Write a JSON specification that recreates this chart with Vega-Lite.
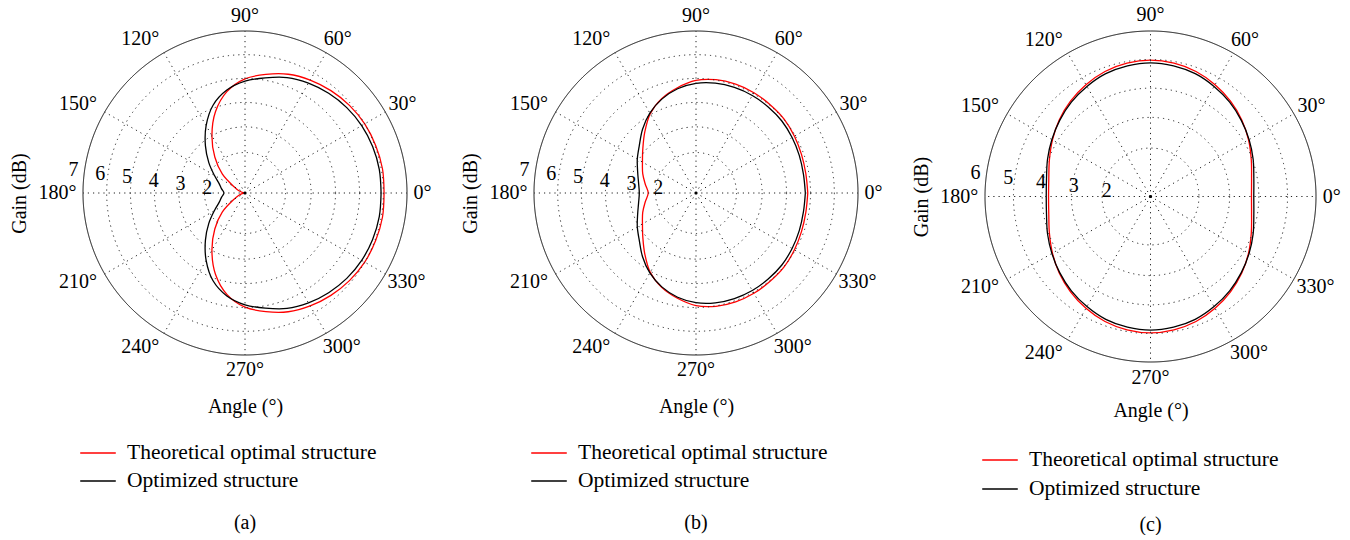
{
  "$schema": "https://vega.github.io/schema/vega-lite/v6.json",
  "background": "white",
  "padding": {"left": 9, "top": 5, "right": 5, "bottom": 0},
  "config": {
    "font": "Liberation Serif",
    "view": {"stroke": null},
    "axis": {"domain": false, "ticks": false, "labels": false, "grid": false, "titleFont": "Liberation Serif", "titleFontSize": 20, "titleFontWeight": "normal", "titleColor": "#000"},
    "axisX": {"titlePadding": 41},
    "axisY": {"titlePadding": 54},
    "legend": {"orient": "bottom", "direction": "vertical", "title": null, "symbolType": "M-1.27,0H1.27", "symbolSize": 784, "symbolStrokeWidth": 1.3, "labelFont": "Liberation Serif", "labelFontSize": 21.5, "labelColor": "#000", "labelLimit": 500, "rowPadding": 2, "offset": 22, "padding": 0, "labelOffset": 14},
    "title": {"font": "Liberation Serif", "fontSize": 20, "fontWeight": "normal", "color": "#000", "orient": "bottom", "anchor": "middle", "offset": 21}
  },
  "datasets": {
    "levels": [{"g": 2}, {"g": 3}, {"g": 4}, {"g": 5}, {"g": 6}, {"g": 7}],
    "angles": [
      {"a": 0, "t": "0°"}, {"a": 30, "t": "30°"}, {"a": 60, "t": "60°"}, {"a": 90, "t": "90°"},
      {"a": 120, "t": "120°"}, {"a": 150, "t": "150°"}, {"a": 180, "t": "180°"}, {"a": 210, "t": "210°"},
      {"a": 240, "t": "240°"}, {"a": 270, "t": "270°"}, {"a": 300, "t": "300°"}, {"a": 330, "t": "330°"}
    ],
    "curves": [
      {"p":"a","s":"Theoretical optimal structure","a":0,"g":6.15},{"p":"a","s":"Theoretical optimal structure","a":10,"g":6.17},{"p":"a","s":"Theoretical optimal structure","a":20,"g":6.15},{"p":"a","s":"Theoretical optimal structure","a":30,"g":6.12},{"p":"a","s":"Theoretical optimal structure","a":40,"g":6.05},{"p":"a","s":"Theoretical optimal structure","a":50,"g":5.95},{"p":"a","s":"Theoretical optimal structure","a":60,"g":5.83},{"p":"a","s":"Theoretical optimal structure","a":70,"g":5.68},{"p":"a","s":"Theoretical optimal structure","a":80,"g":5.46},{"p":"a","s":"Theoretical optimal structure","a":90,"g":5.23},{"p":"a","s":"Theoretical optimal structure","a":100,"g":4.82},{"p":"a","s":"Theoretical optimal structure","a":110,"g":4.2},{"p":"a","s":"Theoretical optimal structure","a":120,"g":3.45},{"p":"a","s":"Theoretical optimal structure","a":130,"g":2.74},{"p":"a","s":"Theoretical optimal structure","a":140,"g":2.1},{"p":"a","s":"Theoretical optimal structure","a":150,"g":1.48},{"p":"a","s":"Theoretical optimal structure","a":160,"g":1.24},{"p":"a","s":"Theoretical optimal structure","a":170,"g":1.08},{"p":"a","s":"Theoretical optimal structure","a":180,"g":1.0},{"p":"a","s":"Theoretical optimal structure","a":190,"g":1.08},{"p":"a","s":"Theoretical optimal structure","a":200,"g":1.24},{"p":"a","s":"Theoretical optimal structure","a":210,"g":1.48},{"p":"a","s":"Theoretical optimal structure","a":220,"g":2.1},{"p":"a","s":"Theoretical optimal structure","a":230,"g":2.74},{"p":"a","s":"Theoretical optimal structure","a":240,"g":3.45},{"p":"a","s":"Theoretical optimal structure","a":250,"g":4.2},{"p":"a","s":"Theoretical optimal structure","a":260,"g":4.82},{"p":"a","s":"Theoretical optimal structure","a":270,"g":5.23},{"p":"a","s":"Theoretical optimal structure","a":280,"g":5.46},{"p":"a","s":"Theoretical optimal structure","a":290,"g":5.68},{"p":"a","s":"Theoretical optimal structure","a":300,"g":5.83},{"p":"a","s":"Theoretical optimal structure","a":310,"g":5.95},{"p":"a","s":"Theoretical optimal structure","a":320,"g":6.05},{"p":"a","s":"Theoretical optimal structure","a":330,"g":6.12},{"p":"a","s":"Theoretical optimal structure","a":340,"g":6.15},{"p":"a","s":"Theoretical optimal structure","a":350,"g":6.17},{"p":"a","s":"Theoretical optimal structure","a":360,"g":6.15},
      {"p":"a","s":"Optimized structure","a":0,"g":6.04},{"p":"a","s":"Optimized structure","a":10,"g":6.05},{"p":"a","s":"Optimized structure","a":20,"g":6.03},{"p":"a","s":"Optimized structure","a":30,"g":5.99},{"p":"a","s":"Optimized structure","a":40,"g":5.92},{"p":"a","s":"Optimized structure","a":50,"g":5.82},{"p":"a","s":"Optimized structure","a":60,"g":5.7},{"p":"a","s":"Optimized structure","a":70,"g":5.55},{"p":"a","s":"Optimized structure","a":80,"g":5.33},{"p":"a","s":"Optimized structure","a":90,"g":5.14},{"p":"a","s":"Optimized structure","a":100,"g":4.87},{"p":"a","s":"Optimized structure","a":110,"g":4.46},{"p":"a","s":"Optimized structure","a":120,"g":3.88},{"p":"a","s":"Optimized structure","a":130,"g":3.28},{"p":"a","s":"Optimized structure","a":140,"g":2.75},{"p":"a","s":"Optimized structure","a":150,"g":2.31},{"p":"a","s":"Optimized structure","a":160,"g":2.02},{"p":"a","s":"Optimized structure","a":170,"g":1.88},{"p":"a","s":"Optimized structure","a":180,"g":1.78},{"p":"a","s":"Optimized structure","a":190,"g":1.88},{"p":"a","s":"Optimized structure","a":200,"g":2.02},{"p":"a","s":"Optimized structure","a":210,"g":2.31},{"p":"a","s":"Optimized structure","a":220,"g":2.75},{"p":"a","s":"Optimized structure","a":230,"g":3.28},{"p":"a","s":"Optimized structure","a":240,"g":3.88},{"p":"a","s":"Optimized structure","a":250,"g":4.46},{"p":"a","s":"Optimized structure","a":260,"g":4.87},{"p":"a","s":"Optimized structure","a":270,"g":5.14},{"p":"a","s":"Optimized structure","a":280,"g":5.33},{"p":"a","s":"Optimized structure","a":290,"g":5.55},{"p":"a","s":"Optimized structure","a":300,"g":5.7},{"p":"a","s":"Optimized structure","a":310,"g":5.82},{"p":"a","s":"Optimized structure","a":320,"g":5.92},{"p":"a","s":"Optimized structure","a":330,"g":5.99},{"p":"a","s":"Optimized structure","a":340,"g":6.03},{"p":"a","s":"Optimized structure","a":350,"g":6.05},{"p":"a","s":"Optimized structure","a":360,"g":6.04},
      {"p":"b","s":"Theoretical optimal structure","a":0,"g":5.14},{"p":"b","s":"Theoretical optimal structure","a":10,"g":5.13},{"p":"b","s":"Theoretical optimal structure","a":20,"g":5.16},{"p":"b","s":"Theoretical optimal structure","a":30,"g":5.21},{"p":"b","s":"Theoretical optimal structure","a":40,"g":5.26},{"p":"b","s":"Theoretical optimal structure","a":50,"g":5.27},{"p":"b","s":"Theoretical optimal structure","a":60,"g":5.29},{"p":"b","s":"Theoretical optimal structure","a":70,"g":5.29},{"p":"b","s":"Theoretical optimal structure","a":80,"g":5.26},{"p":"b","s":"Theoretical optimal structure","a":90,"g":5.17},{"p":"b","s":"Theoretical optimal structure","a":100,"g":4.96},{"p":"b","s":"Theoretical optimal structure","a":110,"g":4.72},{"p":"b","s":"Theoretical optimal structure","a":120,"g":4.39},{"p":"b","s":"Theoretical optimal structure","a":130,"g":3.95},{"p":"b","s":"Theoretical optimal structure","a":140,"g":3.57},{"p":"b","s":"Theoretical optimal structure","a":150,"g":3.29},{"p":"b","s":"Theoretical optimal structure","a":160,"g":3.1},{"p":"b","s":"Theoretical optimal structure","a":170,"g":2.91},{"p":"b","s":"Theoretical optimal structure","a":180,"g":2.77},{"p":"b","s":"Theoretical optimal structure","a":190,"g":2.91},{"p":"b","s":"Theoretical optimal structure","a":200,"g":3.1},{"p":"b","s":"Theoretical optimal structure","a":210,"g":3.29},{"p":"b","s":"Theoretical optimal structure","a":220,"g":3.57},{"p":"b","s":"Theoretical optimal structure","a":230,"g":3.95},{"p":"b","s":"Theoretical optimal structure","a":240,"g":4.39},{"p":"b","s":"Theoretical optimal structure","a":250,"g":4.72},{"p":"b","s":"Theoretical optimal structure","a":260,"g":4.96},{"p":"b","s":"Theoretical optimal structure","a":270,"g":5.17},{"p":"b","s":"Theoretical optimal structure","a":280,"g":5.26},{"p":"b","s":"Theoretical optimal structure","a":290,"g":5.29},{"p":"b","s":"Theoretical optimal structure","a":300,"g":5.29},{"p":"b","s":"Theoretical optimal structure","a":310,"g":5.27},{"p":"b","s":"Theoretical optimal structure","a":320,"g":5.26},{"p":"b","s":"Theoretical optimal structure","a":330,"g":5.21},{"p":"b","s":"Theoretical optimal structure","a":340,"g":5.16},{"p":"b","s":"Theoretical optimal structure","a":350,"g":5.13},{"p":"b","s":"Theoretical optimal structure","a":360,"g":5.14},
      {"p":"b","s":"Optimized structure","a":0,"g":5.05},{"p":"b","s":"Optimized structure","a":10,"g":5.04},{"p":"b","s":"Optimized structure","a":20,"g":5.07},{"p":"b","s":"Optimized structure","a":30,"g":5.11},{"p":"b","s":"Optimized structure","a":40,"g":5.15},{"p":"b","s":"Optimized structure","a":50,"g":5.16},{"p":"b","s":"Optimized structure","a":60,"g":5.17},{"p":"b","s":"Optimized structure","a":70,"g":5.16},{"p":"b","s":"Optimized structure","a":80,"g":5.13},{"p":"b","s":"Optimized structure","a":90,"g":5.06},{"p":"b","s":"Optimized structure","a":100,"g":4.92},{"p":"b","s":"Optimized structure","a":110,"g":4.7},{"p":"b","s":"Optimized structure","a":120,"g":4.42},{"p":"b","s":"Optimized structure","a":130,"g":4.08},{"p":"b","s":"Optimized structure","a":140,"g":3.74},{"p":"b","s":"Optimized structure","a":150,"g":3.51},{"p":"b","s":"Optimized structure","a":160,"g":3.3},{"p":"b","s":"Optimized structure","a":170,"g":3.16},{"p":"b","s":"Optimized structure","a":180,"g":3.1},{"p":"b","s":"Optimized structure","a":190,"g":3.16},{"p":"b","s":"Optimized structure","a":200,"g":3.3},{"p":"b","s":"Optimized structure","a":210,"g":3.51},{"p":"b","s":"Optimized structure","a":220,"g":3.74},{"p":"b","s":"Optimized structure","a":230,"g":4.08},{"p":"b","s":"Optimized structure","a":240,"g":4.42},{"p":"b","s":"Optimized structure","a":250,"g":4.7},{"p":"b","s":"Optimized structure","a":260,"g":4.92},{"p":"b","s":"Optimized structure","a":270,"g":5.06},{"p":"b","s":"Optimized structure","a":280,"g":5.13},{"p":"b","s":"Optimized structure","a":290,"g":5.16},{"p":"b","s":"Optimized structure","a":300,"g":5.17},{"p":"b","s":"Optimized structure","a":310,"g":5.16},{"p":"b","s":"Optimized structure","a":320,"g":5.15},{"p":"b","s":"Optimized structure","a":330,"g":5.11},{"p":"b","s":"Optimized structure","a":340,"g":5.07},{"p":"b","s":"Optimized structure","a":350,"g":5.04},{"p":"b","s":"Optimized structure","a":360,"g":5.05},
      {"p":"c","s":"Theoretical optimal structure","a":0,"g":4.05},{"p":"c","s":"Theoretical optimal structure","a":10,"g":4.1},{"p":"c","s":"Theoretical optimal structure","a":20,"g":4.24},{"p":"c","s":"Theoretical optimal structure","a":30,"g":4.42},{"p":"c","s":"Theoretical optimal structure","a":40,"g":4.6},{"p":"c","s":"Theoretical optimal structure","a":50,"g":4.76},{"p":"c","s":"Theoretical optimal structure","a":60,"g":4.9},{"p":"c","s":"Theoretical optimal structure","a":70,"g":5.02},{"p":"c","s":"Theoretical optimal structure","a":80,"g":5.09},{"p":"c","s":"Theoretical optimal structure","a":90,"g":5.12},{"p":"c","s":"Theoretical optimal structure","a":100,"g":5.09},{"p":"c","s":"Theoretical optimal structure","a":110,"g":5.02},{"p":"c","s":"Theoretical optimal structure","a":120,"g":4.9},{"p":"c","s":"Theoretical optimal structure","a":130,"g":4.76},{"p":"c","s":"Theoretical optimal structure","a":140,"g":4.6},{"p":"c","s":"Theoretical optimal structure","a":150,"g":4.42},{"p":"c","s":"Theoretical optimal structure","a":160,"g":4.25},{"p":"c","s":"Theoretical optimal structure","a":170,"g":4.12},{"p":"c","s":"Theoretical optimal structure","a":180,"g":4.08},{"p":"c","s":"Theoretical optimal structure","a":190,"g":4.12},{"p":"c","s":"Theoretical optimal structure","a":200,"g":4.25},{"p":"c","s":"Theoretical optimal structure","a":210,"g":4.42},{"p":"c","s":"Theoretical optimal structure","a":220,"g":4.6},{"p":"c","s":"Theoretical optimal structure","a":230,"g":4.76},{"p":"c","s":"Theoretical optimal structure","a":240,"g":4.9},{"p":"c","s":"Theoretical optimal structure","a":250,"g":5.02},{"p":"c","s":"Theoretical optimal structure","a":260,"g":5.09},{"p":"c","s":"Theoretical optimal structure","a":270,"g":5.12},{"p":"c","s":"Theoretical optimal structure","a":280,"g":5.09},{"p":"c","s":"Theoretical optimal structure","a":290,"g":5.02},{"p":"c","s":"Theoretical optimal structure","a":300,"g":4.9},{"p":"c","s":"Theoretical optimal structure","a":310,"g":4.76},{"p":"c","s":"Theoretical optimal structure","a":320,"g":4.6},{"p":"c","s":"Theoretical optimal structure","a":330,"g":4.42},{"p":"c","s":"Theoretical optimal structure","a":340,"g":4.24},{"p":"c","s":"Theoretical optimal structure","a":350,"g":4.1},{"p":"c","s":"Theoretical optimal structure","a":360,"g":4.05},
      {"p":"c","s":"Optimized structure","a":0,"g":4.12},{"p":"c","s":"Optimized structure","a":10,"g":4.17},{"p":"c","s":"Optimized structure","a":20,"g":4.3},{"p":"c","s":"Optimized structure","a":30,"g":4.44},{"p":"c","s":"Optimized structure","a":40,"g":4.58},{"p":"c","s":"Optimized structure","a":50,"g":4.72},{"p":"c","s":"Optimized structure","a":60,"g":4.84},{"p":"c","s":"Optimized structure","a":70,"g":4.95},{"p":"c","s":"Optimized structure","a":80,"g":5.01},{"p":"c","s":"Optimized structure","a":90,"g":5.04},{"p":"c","s":"Optimized structure","a":100,"g":5.01},{"p":"c","s":"Optimized structure","a":110,"g":4.95},{"p":"c","s":"Optimized structure","a":120,"g":4.84},{"p":"c","s":"Optimized structure","a":130,"g":4.72},{"p":"c","s":"Optimized structure","a":140,"g":4.58},{"p":"c","s":"Optimized structure","a":150,"g":4.44},{"p":"c","s":"Optimized structure","a":160,"g":4.31},{"p":"c","s":"Optimized structure","a":170,"g":4.19},{"p":"c","s":"Optimized structure","a":180,"g":4.15},{"p":"c","s":"Optimized structure","a":190,"g":4.19},{"p":"c","s":"Optimized structure","a":200,"g":4.31},{"p":"c","s":"Optimized structure","a":210,"g":4.44},{"p":"c","s":"Optimized structure","a":220,"g":4.58},{"p":"c","s":"Optimized structure","a":230,"g":4.72},{"p":"c","s":"Optimized structure","a":240,"g":4.84},{"p":"c","s":"Optimized structure","a":250,"g":4.95},{"p":"c","s":"Optimized structure","a":260,"g":5.01},{"p":"c","s":"Optimized structure","a":270,"g":5.04},{"p":"c","s":"Optimized structure","a":280,"g":5.01},{"p":"c","s":"Optimized structure","a":290,"g":4.95},{"p":"c","s":"Optimized structure","a":300,"g":4.84},{"p":"c","s":"Optimized structure","a":310,"g":4.72},{"p":"c","s":"Optimized structure","a":320,"g":4.58},{"p":"c","s":"Optimized structure","a":330,"g":4.44},{"p":"c","s":"Optimized structure","a":340,"g":4.3},{"p":"c","s":"Optimized structure","a":350,"g":4.17},{"p":"c","s":"Optimized structure","a":360,"g":4.12}
    ]
  },
  "bounds": "flush",
  "spacing": 127,
  "resolve": {"scale": {"x": "independent", "y": "independent", "color": "independent", "size": "independent"}, "legend": {"color": "independent"}},
  "hconcat": [
    {
      "width": 324, "height": 324,
      "title": {"text": "(a)"},
      "layer": [
        {"data": {"name": "curves"}, "transform": [{"filter": "datum.p == 'a'"}, {"calculate": "(datum.g-1)*cos(datum.a*PI/180)", "as": "x"}, {"calculate": "(datum.g-1)*sin(datum.a*PI/180)", "as": "y"}],
         "mark": {"type": "line", "interpolate": "catmull-rom", "strokeWidth": 1.3},
         "encoding": {
           "x": {"field": "x", "type": "quantitative", "scale": {"domain": [-6, 6], "nice": false, "zero": false}, "axis": {"title": "Angle (°)"}},
           "y": {"field": "y", "type": "quantitative", "scale": {"domain": [-6, 6], "nice": false, "zero": false}, "axis": {"title": "Gain (dB)"}},
           "color": {"field": "s", "type": "nominal", "scale": {"domain": ["Theoretical optimal structure", "Optimized structure"], "range": ["#ff0000", "#000000"]}},
           "order": {"field": "a", "type": "quantitative"}}},
        {"data": {"name": "levels"},
         "mark": {"type": "point", "shape": "circle", "filled": false, "stroke": "#222", "strokeWidth": 1, "strokeDash": [1.2, 4], "opacity": 1},
         "encoding": {"x": {"datum": 0, "type": "quantitative", "axis": {"title": "Angle (°)"}}, "y": {"datum": 0, "type": "quantitative", "axis": {"title": "Gain (dB)"}},
           "strokeDash": {"condition": {"test": "datum.g == 7", "value": [1, 0]}, "value": [1.2, 4]},
           "stroke": {"condition": {"test": "datum.g == 7", "value": "#000"}, "value": "#222"},
           "size": {"field": "g", "type": "quantitative", "legend": null, "scale": {"type": "pow", "exponent": 2, "domain": [1, 7], "range": [0, 104976], "zero": false, "nice": false}}}},
        {"data": {"name": "angles"}, "transform": [{"calculate": "0", "as": "x0"}, {"calculate": "6*cos(datum.a*PI/180)", "as": "x"}, {"calculate": "6*sin(datum.a*PI/180)", "as": "y"}],
         "mark": {"type": "rule", "stroke": "#222", "strokeWidth": 1, "strokeDash": [1.2, 4]},
         "encoding": {"x": {"field": "x0", "type": "quantitative", "axis": {"title": "Angle (°)"}}, "y": {"field": "x0", "type": "quantitative", "axis": {"title": "Gain (dB)"}}, "x2": {"field": "x"}, "y2": {"field": "y"}}},
        {"data": {"values": [{"g": 1}]}, "mark": {"type": "point", "filled": true, "color": "#000", "size": 10, "opacity": 1},
         "encoding": {"x": {"datum": 0, "type": "quantitative", "axis": {"title": "Angle (°)"}}, "y": {"datum": 0, "type": "quantitative", "axis": {"title": "Gain (dB)"}}}},
        {"data": {"name": "angles"}, "transform": [
           {"calculate": "cos(datum.a*PI/180)", "as": "ca"}, {"calculate": "sin(datum.a*PI/180)", "as": "sa"},
           {"calculate": "abs(datum.ca) < 0.1 ? 0 : (datum.ca > 0 ? 4*(length(datum.t)-2) : -(10 + 7*abs(datum.sa)))", "as": "off"},
           {"calculate": "6*1.095*datum.ca + datum.off*6/162", "as": "x"}, {"calculate": "6*1.095*datum.sa", "as": "y"}],
         "mark": {"type": "text", "font": "Liberation Serif", "fontSize": 20, "align": "center", "baseline": "middle", "color": "#000"},
         "encoding": {"x": {"field": "x", "type": "quantitative", "axis": {"title": "Angle (°)"}}, "y": {"field": "y", "type": "quantitative", "axis": {"title": "Gain (dB)"}}, "text": {"field": "t", "type": "nominal"}}},
        {"data": {"name": "levels"}, "transform": [{"calculate": "(datum.g-1)*cos(172.5*PI/180)", "as": "x"}, {"calculate": "(datum.g-1)*sin(172.5*PI/180)", "as": "y"}],
         "mark": {"type": "text", "font": "Liberation Serif", "fontSize": 20, "align": "center", "baseline": "middle", "color": "#000", "dx": -11, "dy": -1.5},
         "encoding": {"x": {"field": "x", "type": "quantitative", "axis": {"title": "Angle (°)"}}, "y": {"field": "y", "type": "quantitative", "axis": {"title": "Gain (dB)"}}, "text": {"field": "g", "type": "nominal"}}}
      ]
    },
    {
      "width": 324, "height": 324,
      "title": {"text": "(b)"},
      "layer": [
        {"data": {"name": "curves"}, "transform": [{"filter": "datum.p == 'b'"}, {"calculate": "(datum.g-1)*cos(datum.a*PI/180)", "as": "x"}, {"calculate": "(datum.g-1)*sin(datum.a*PI/180)", "as": "y"}],
         "mark": {"type": "line", "interpolate": "catmull-rom", "strokeWidth": 1.3},
         "encoding": {
           "x": {"field": "x", "type": "quantitative", "scale": {"domain": [-6, 6], "nice": false, "zero": false}, "axis": {"title": "Angle (°)"}},
           "y": {"field": "y", "type": "quantitative", "scale": {"domain": [-6, 6], "nice": false, "zero": false}, "axis": {"title": "Gain (dB)"}},
           "color": {"field": "s", "type": "nominal", "scale": {"domain": ["Theoretical optimal structure", "Optimized structure"], "range": ["#ff0000", "#000000"]}},
           "order": {"field": "a", "type": "quantitative"}}},
        {"data": {"name": "levels"},
         "mark": {"type": "point", "shape": "circle", "filled": false, "stroke": "#222", "strokeWidth": 1, "strokeDash": [1.2, 4], "opacity": 1},
         "encoding": {"x": {"datum": 0, "type": "quantitative", "axis": {"title": "Angle (°)"}}, "y": {"datum": 0, "type": "quantitative", "axis": {"title": "Gain (dB)"}},
           "strokeDash": {"condition": {"test": "datum.g == 7", "value": [1, 0]}, "value": [1.2, 4]},
           "stroke": {"condition": {"test": "datum.g == 7", "value": "#000"}, "value": "#222"},
           "size": {"field": "g", "type": "quantitative", "legend": null, "scale": {"type": "pow", "exponent": 2, "domain": [1, 7], "range": [0, 104976], "zero": false, "nice": false}}}},
        {"data": {"name": "angles"}, "transform": [{"calculate": "0", "as": "x0"}, {"calculate": "6*cos(datum.a*PI/180)", "as": "x"}, {"calculate": "6*sin(datum.a*PI/180)", "as": "y"}],
         "mark": {"type": "rule", "stroke": "#222", "strokeWidth": 1, "strokeDash": [1.2, 4]},
         "encoding": {"x": {"field": "x0", "type": "quantitative", "axis": {"title": "Angle (°)"}}, "y": {"field": "x0", "type": "quantitative", "axis": {"title": "Gain (dB)"}}, "x2": {"field": "x"}, "y2": {"field": "y"}}},
        {"data": {"values": [{"g": 1}]}, "mark": {"type": "point", "filled": true, "color": "#000", "size": 10, "opacity": 1},
         "encoding": {"x": {"datum": 0, "type": "quantitative", "axis": {"title": "Angle (°)"}}, "y": {"datum": 0, "type": "quantitative", "axis": {"title": "Gain (dB)"}}}},
        {"data": {"name": "angles"}, "transform": [
           {"calculate": "cos(datum.a*PI/180)", "as": "ca"}, {"calculate": "sin(datum.a*PI/180)", "as": "sa"},
           {"calculate": "abs(datum.ca) < 0.1 ? 0 : (datum.ca > 0 ? 4*(length(datum.t)-2) : -(10 + 7*abs(datum.sa)))", "as": "off"},
           {"calculate": "6*1.095*datum.ca + datum.off*6/162", "as": "x"}, {"calculate": "6*1.095*datum.sa", "as": "y"}],
         "mark": {"type": "text", "font": "Liberation Serif", "fontSize": 20, "align": "center", "baseline": "middle", "color": "#000"},
         "encoding": {"x": {"field": "x", "type": "quantitative", "axis": {"title": "Angle (°)"}}, "y": {"field": "y", "type": "quantitative", "axis": {"title": "Gain (dB)"}}, "text": {"field": "t", "type": "nominal"}}},
        {"data": {"name": "levels"}, "transform": [{"calculate": "(datum.g-1)*cos(172.5*PI/180)", "as": "x"}, {"calculate": "(datum.g-1)*sin(172.5*PI/180)", "as": "y"}],
         "mark": {"type": "text", "font": "Liberation Serif", "fontSize": 20, "align": "center", "baseline": "middle", "color": "#000", "dx": -11, "dy": -1.5},
         "encoding": {"x": {"field": "x", "type": "quantitative", "axis": {"title": "Angle (°)"}}, "y": {"field": "y", "type": "quantitative", "axis": {"title": "Gain (dB)"}}, "text": {"field": "g", "type": "nominal"}}}
      ]
    },
    {
      "width": 331, "height": 331,
      "title": {"text": "(c)", "offset": 15},
      "layer": [
        {"data": {"name": "curves"}, "transform": [{"filter": "datum.p == 'c'"}, {"calculate": "(datum.g-1)*cos(datum.a*PI/180)", "as": "x"}, {"calculate": "(datum.g-1)*sin(datum.a*PI/180)", "as": "y"}],
         "mark": {"type": "line", "interpolate": "catmull-rom", "strokeWidth": 1.3},
         "encoding": {
           "x": {"field": "x", "type": "quantitative", "scale": {"domain": [-5, 5], "nice": false, "zero": false}, "axis": {"title": "Angle (°)", "titlePadding": 38}},
           "y": {"field": "y", "type": "quantitative", "scale": {"domain": [-5, 5], "nice": false, "zero": false}, "axis": {"title": "Gain (dB)"}},
           "color": {"field": "s", "type": "nominal", "scale": {"domain": ["Theoretical optimal structure", "Optimized structure"], "range": ["#ff0000", "#000000"]}, "legend": {"offset": 25, "rowPadding": 3}},
           "order": {"field": "a", "type": "quantitative"}}},
        {"data": {"name": "levels"}, "transform": [{"filter": "datum.g <= 6"}],
         "mark": {"type": "point", "shape": "circle", "filled": false, "stroke": "#222", "strokeWidth": 1, "strokeDash": [1.2, 4], "opacity": 1},
         "encoding": {"x": {"datum": 0, "type": "quantitative", "axis": {"title": "Angle (°)", "titlePadding": 38}}, "y": {"datum": 0, "type": "quantitative", "axis": {"title": "Gain (dB)"}},
           "strokeDash": {"condition": {"test": "datum.g == 6", "value": [1, 0]}, "value": [1.2, 4]},
           "stroke": {"condition": {"test": "datum.g == 6", "value": "#000"}, "value": "#222"},
           "size": {"field": "g", "type": "quantitative", "legend": null, "scale": {"type": "pow", "exponent": 2, "domain": [1, 6], "range": [0, 109561], "zero": false, "nice": false}}}},
        {"data": {"name": "angles"}, "transform": [{"calculate": "0", "as": "x0"}, {"calculate": "5*cos(datum.a*PI/180)", "as": "x"}, {"calculate": "5*sin(datum.a*PI/180)", "as": "y"}],
         "mark": {"type": "rule", "stroke": "#222", "strokeWidth": 1, "strokeDash": [1.2, 4]},
         "encoding": {"x": {"field": "x0", "type": "quantitative", "axis": {"title": "Angle (°)", "titlePadding": 38}}, "y": {"field": "x0", "type": "quantitative", "axis": {"title": "Gain (dB)"}}, "x2": {"field": "x"}, "y2": {"field": "y"}}},
        {"data": {"values": [{"g": 1}]}, "mark": {"type": "point", "filled": true, "color": "#000", "size": 10, "opacity": 1},
         "encoding": {"x": {"datum": 0, "type": "quantitative", "axis": {"title": "Angle (°)", "titlePadding": 38}}, "y": {"datum": 0, "type": "quantitative", "axis": {"title": "Gain (dB)"}}}},
        {"data": {"name": "angles"}, "transform": [
           {"calculate": "cos(datum.a*PI/180)", "as": "ca"}, {"calculate": "sin(datum.a*PI/180)", "as": "sa"},
           {"calculate": "abs(datum.ca) < 0.1 ? 0 : (datum.ca > 0 ? 4*(length(datum.t)-2) : -(10 + 7*abs(datum.sa)))", "as": "off"},
           {"calculate": "5*1.095*datum.ca + datum.off*5/165.5", "as": "x"}, {"calculate": "5*1.095*datum.sa", "as": "y"}],
         "mark": {"type": "text", "font": "Liberation Serif", "fontSize": 20, "align": "center", "baseline": "middle", "color": "#000"},
         "encoding": {"x": {"field": "x", "type": "quantitative", "axis": {"title": "Angle (°)", "titlePadding": 38}}, "y": {"field": "y", "type": "quantitative", "axis": {"title": "Gain (dB)"}}, "text": {"field": "t", "type": "nominal"}}},
        {"data": {"name": "levels"}, "transform": [{"filter": "datum.g <= 6"}, {"calculate": "(datum.g-1)*cos(172.5*PI/180)", "as": "x"}, {"calculate": "(datum.g-1)*sin(172.5*PI/180)", "as": "y"}],
         "mark": {"type": "text", "font": "Liberation Serif", "fontSize": 20, "align": "center", "baseline": "middle", "color": "#000", "dx": -11, "dy": -1.5},
         "encoding": {"x": {"field": "x", "type": "quantitative", "axis": {"title": "Angle (°)", "titlePadding": 38}}, "y": {"field": "y", "type": "quantitative", "axis": {"title": "Gain (dB)"}}, "text": {"field": "g", "type": "nominal"}}}
      ]
    }
  ]
}
